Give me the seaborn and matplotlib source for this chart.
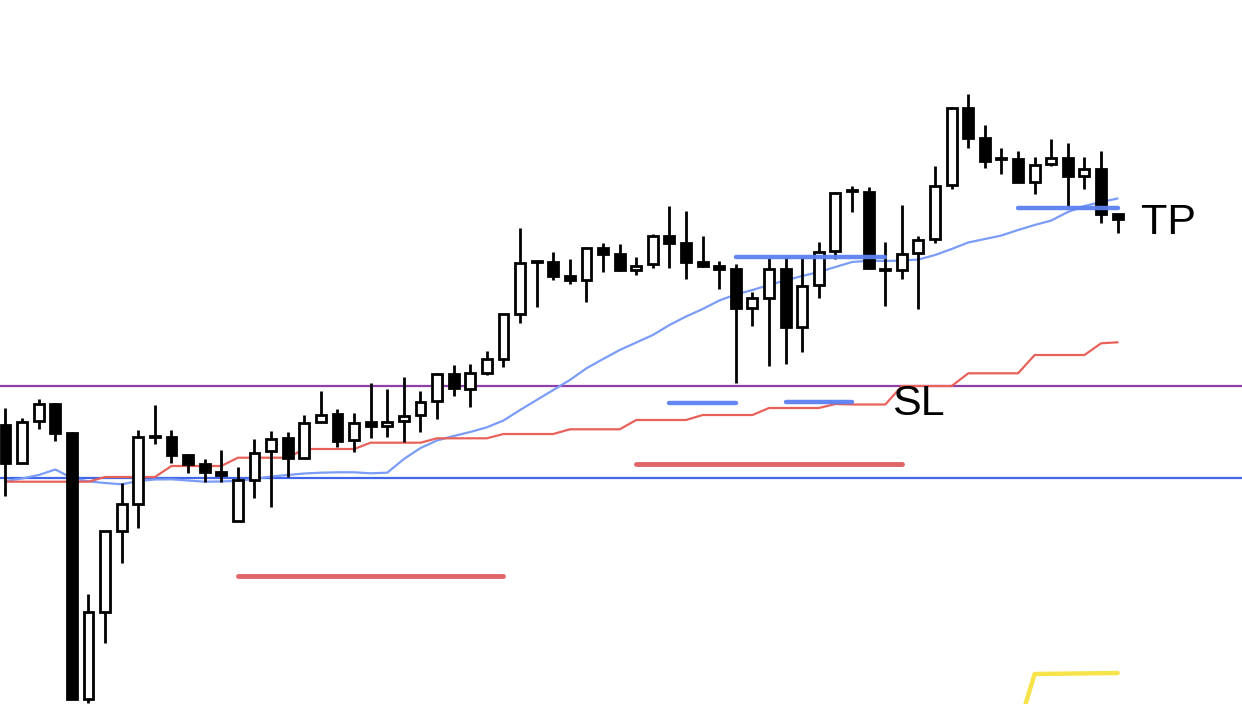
import numpy as np
import pandas as pd
import matplotlib
matplotlib.use("Agg")
import matplotlib.pyplot as plt
import seaborn as sns

# ---- data (price units) ----
opens = [279, 241, 283, 300, 271, 5, 92, 173, 200, 267, 267, 249, 240, 232, 183, 224, 253, 266, 246, 282,
         290, 264, 282, 278, 283, 289, 303, 330, 315, 331, 345, 390, 442, 442, 428, 424, 456, 450, 434, 440,
         468, 461, 442, 438, 435, 396, 406, 435, 377, 419, 453, 513, 512, 435, 434, 451, 465, 519, 596, 566,
         545, 545, 522, 540, 546, 528, 535, 490]
closes = [241, 282, 300, 271, 5, 92, 173, 200, 267, 267, 249, 240, 232, 229, 224, 251, 265, 246, 281, 289,
          263, 281, 278, 282, 288, 302, 330, 316, 331, 345, 390, 441, 442, 428, 424, 456, 450, 434, 438, 468,
          461, 442, 438, 435, 396, 406, 435, 377, 418, 452, 511, 513.5, 436, 434, 450, 464, 518, 596, 566, 543,
          545, 522, 539, 546, 528, 535, 490, 485]
highs = [296, 286, 305, 301, 272, 110, 173, 221, 274, 299, 274, 250, 245, 254, 237, 265, 273, 272, 289, 313,
         295, 291, 321, 315, 327, 313, 331, 339, 340, 353, 390, 476, 443, 452, 445, 457, 461, 460, 447, 470,
         498, 493, 468, 443, 440, 412, 446, 447, 447, 462, 512, 518, 517, 462, 499, 468, 538, 597, 610, 579,
         556, 553, 547, 565, 561, 547, 553, 490]
lows = [208, 241, 275, 263, 5, 1, 61, 141, 176, 260, 241, 231, 222, 222, 183, 206, 197, 227, 246, 282,
        257, 252, 266, 267, 262, 272, 285, 308, 297, 329, 337, 381, 397, 424, 420, 402, 432, 433, 429, 436,
        436, 425, 437, 415, 321, 378, 338, 340, 352, 406, 445, 492, 435, 398, 425, 395, 461, 515, 556, 536,
        530, 522, 510, 538, 497, 515, 481, 471]
ma_line = [223, 225.5, 229, 234.5, 226, 222.6, 221, 219.7, 223, 224.5, 224.7, 223.5, 222.3, 222.5, 223.2, 225,
           227.5, 229, 230.5, 231.3, 231.7, 231.7, 230.7, 231.3, 245, 256, 263.5, 268, 272, 276.7, 283.5, 294,
           304, 314, 324, 335.7, 345, 354, 361.5, 369, 379, 387.5, 395, 403.5, 409.5, 414, 419, 423.7, 428, 432,
           437, 442, 443.2, 443, 443.5, 444.5, 449, 455, 461.5, 465, 468.5, 474, 479, 483.5, 492, 498, 502, 505.5]
step_line = [222.3, 222.3, 222.3, 222.3, 222.3, 222.3, 227, 227, 227, 227, 238, 238, 238, 238, 246.3, 246.3,
             246.3, 246.3, 255, 255, 255, 255, 261.3, 261.3, 261.3, 261.3, 265.7, 265.7, 265.7, 265.7, 270, 270,
             270, 270, 274.7, 274.7, 274.7, 274.7, 284, 284, 284, 284, 289, 289, 289, 289, 296, 296, 296, 296,
             300, 299.5, 299.5, 299.5, 318, 318, 318, 318, 330.7, 330.7, 330.7, 330.7, 349, 349, 349, 349, 360.7, 361.7]

sl_level = 318
entry_level = 226
red_zones = [(14, 30, 128.5), (38, 54, 240.5)]
blue_zones = [(40, 44, 301.5), (47, 51, 302.5), (44, 53, 447), (61, 67, 496)]
yellow_x = [61.45, 62.0, 67.0]
yellow_y = [0, 30, 31]
labels = [("TP", 68.4, 470), ("SL", 53.4, 289)]

# ---- figure ----
sns.set_theme(style="white")
plt.rcParams['font.family'] = ['Liberation Sans', 'DejaVu Sans']
fig = plt.figure(figsize=(12.42, 7.04), dpi=100)
ax = fig.add_axes([0, 0, 1, 1])

n = len(opens)
idx = np.arange(n)
df = pd.DataFrame({"i": idx, "o": opens, "c": closes, "h": highs, "l": lows,
                   "ma": ma_line, "step": step_line})

# horizontal levels
ax.axhline(sl_level, color="#8e3fa8", lw=1.6, zorder=1)
ax.axhline(entry_level, color="#4266e8", lw=1.6, zorder=1)

# moving lines
sns.lineplot(data=df, x="i", y="ma", ax=ax, color="#7b9cf7", lw=1.6, zorder=2)
sns.lineplot(data=df, x="i", y="step", ax=ax, color="#e8625a", lw=1.6, zorder=2)

# zones
for x0, x1, y in red_zones:
    ax.plot([x0, x1], [y, y], color="#e06468", lw=3.5, solid_capstyle="round", zorder=3)
for x0, x1, y in blue_zones:
    ax.plot([x0, x1], [y, y], color="#5b80f2", lw=3.2, solid_capstyle="round", alpha=0.95, zorder=6)
ax.plot(yellow_x, yellow_y, color="#f7e44b", lw=3.2, zorder=3)

# candles
wick_bottom = np.minimum(df.o, df.c)
wick_top = np.maximum(df.o, df.c)
ax.vlines(idx, df.l, wick_bottom, color="black", lw=2, zorder=4)
ax.vlines(idx, wick_top, df.h, color="black", lw=2, zorder=4)
for i in idx:
    o, c = opens[i], closes[i]
    bull = c >= o
    body = max(abs(c - o), 0.8)
    ax.bar(i, body, bottom=min(o, c), width=0.6,
           color="white" if bull else "black", edgecolor="black", linewidth=2, zorder=5)

for txt, x, y in labels:
    ax.text(x, y, txt, fontsize=31, color="black", va="baseline", ha="left", zorder=7)

ax.set_xlim(-0.331, 74.49)
ax.set_ylim(0, 704)
ax.set_axis_off()
fig.savefig("out.png", dpi=100, facecolor="white")
